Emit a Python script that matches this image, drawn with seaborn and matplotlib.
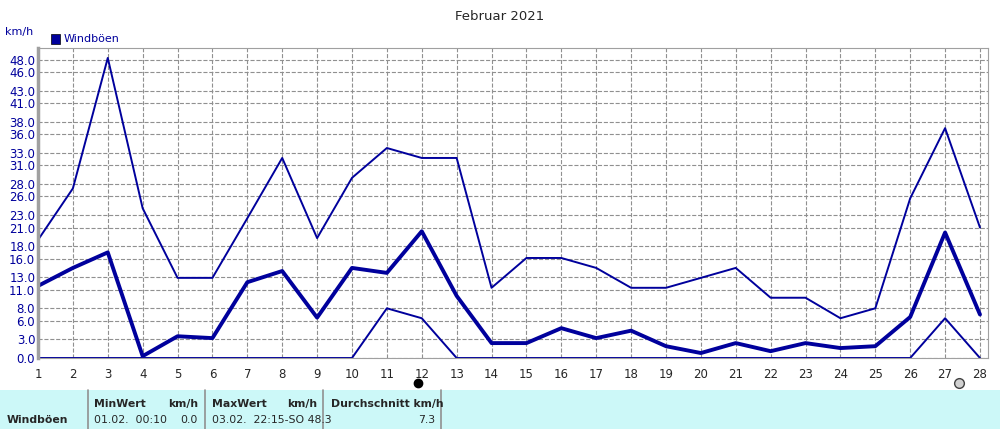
import matplotlib
matplotlib.use('Agg')
import matplotlib.pyplot as plt
import matplotlib.transforms as mtrans
import seaborn as sns
import pandas as pd

days = list(range(1, 29))
gust_max = [19.0, 27.3, 48.3, 24.1, 12.9, 12.9, 22.5, 32.2, 19.3, 29.0, 33.8, 32.2, 32.2, 11.3,
            16.1, 16.1, 14.5, 11.3, 11.3, 12.9, 14.5, 9.7, 9.7, 6.4, 8.0, 25.7, 37.0, 21.0]
gust_avg = [11.6, 14.5, 17.0, 0.3, 3.5, 3.2, 12.2, 14.0, 6.5, 14.5, 13.7, 20.4, 10.0, 2.4,
            2.4, 4.8, 3.2, 4.4, 1.9, 0.8, 2.4, 1.1, 2.4, 1.6, 1.9, 6.6, 20.2, 7.0]
gust_min = [0.0] * 10 + [8.0, 6.4] + [0.0] * 14 + [6.4, 0.0]
yticks = [0, 3, 6, 8, 11, 13, 16, 18, 21, 23, 26, 28, 31, 33, 36, 38, 41, 43, 46, 48]

df = pd.DataFrame({'Tag': days, 'max': gust_max, 'avg': gust_avg, 'min': gust_min})

sns.set_style('white')
plt.rcParams['font.family'] = ['DejaVu Sans']
blue = '#00009c'

fig = plt.figure(figsize=(10, 4.29), dpi=100)
ax = fig.add_axes([0.038, 71 / 429, 0.95, 310 / 429])
sns.lineplot(data=df, x='Tag', y='max', color=blue, lw=1.4, ax=ax)
sns.lineplot(data=df, x='Tag', y='min', color=blue, lw=1.4, ax=ax)
sns.lineplot(data=df, x='Tag', y='avg', color=blue, lw=2.8, ax=ax)

ax.set_xlim(1, 28.23)
ax.set_ylim(0, 49.9)
ax.set_xticks(days)
ax.set_yticks(yticks)
ax.set_yticklabels([f'{v:.1f}' for v in yticks], color=blue, fontsize=8.5)
ax.tick_params(axis='x', labelsize=8.5, length=4)
ax.tick_params(axis='y', length=0, pad=2)
ax.set_xlabel('')
ax.set_ylabel('')
ax.grid(True, ls='--', color='#909090', lw=0.8)
for s in ax.spines.values():
    s.set_color('#a0a0a0')
ax.spines['left'].set_linewidth(2.5)

# moon phase markers
tr = mtrans.blended_transform_factory(ax.transData, ax.transAxes)
ax.plot([11.9], [-0.08], 'o', color='black', ms=6, transform=tr, clip_on=False)
ax.plot([27.4], [-0.08], 'o', mfc='#d0d0d0', mec='#404040', ms=7, transform=tr, clip_on=False)

fig.text(0.5, 0.962, 'Februar 2021', ha='center', va='center', fontsize=9.5)
fig.text(0.005, 0.918, 'km/h', color=blue, fontsize=8)
fig.patches.append(plt.Rectangle((0.051, 0.898), 0.009, 0.022, transform=fig.transFigure,
                                 fc=blue, ec='black', lw=0.5))
fig.text(0.064, 0.91, 'Windböen', color=blue, fontsize=8, va='center')

# summary table
fig.patches.append(plt.Rectangle((0, 0), 1, 39 / 429, transform=fig.transFigure, fc='#ccf8f8', ec='none'))
for x in [0.088, 0.205, 0.323, 0.441]:
    fig.add_artist(plt.Line2D([x, x], [0, 39 / 429], color='#909090', lw=1.2))
r1, r2 = 0.058, 0.022
fs = 7.8
fig.text(0.007, r2, 'Windböen', fontsize=fs, weight='bold', va='center')
fig.text(0.094, r1, 'MinWert', fontsize=fs, weight='bold', va='center')
fig.text(0.198, r1, 'km/h', fontsize=fs, weight='bold', va='center', ha='right')
fig.text(0.094, r2, '01.02.  00:10', fontsize=fs, va='center')
fig.text(0.198, r2, '0.0', fontsize=fs, va='center', ha='right')
fig.text(0.212, r1, 'MaxWert', fontsize=fs, weight='bold', va='center')
fig.text(0.317, r1, 'km/h', fontsize=fs, weight='bold', va='center', ha='right')
fig.text(0.212, r2, '03.02.  22:15-SO 48.3', fontsize=fs, va='center')
fig.text(0.331, r1, 'Durchschnitt km/h', fontsize=fs, weight='bold', va='center')
fig.text(0.435, r2, '7.3', fontsize=fs, va='center', ha='right')

fig.savefig('out.png', dpi=100)
